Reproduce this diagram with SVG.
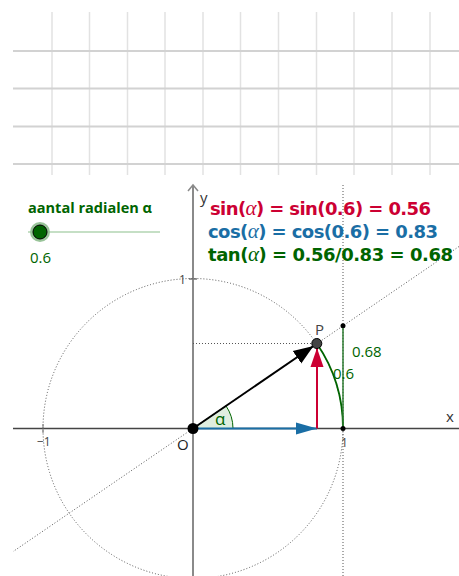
<svg xmlns="http://www.w3.org/2000/svg" width="459" height="576" viewBox="0 0 459 576">
<style>
.gh{stroke:#d2d2d2;stroke-width:2}
.gv{stroke:#e2e2e2;stroke-width:1.5}
.dot{fill:none;stroke:#555;stroke-width:1;stroke-dasharray:1 2}
.tick{font-family:"Open Sans","DejaVu Sans",sans-serif;font-size:12px;fill:#444}
.lbl{font-family:"Open Sans","DejaVu Sans",sans-serif;font-size:15px}
.f{font-family:"DejaVu Sans","Liberation Sans",sans-serif;font-size:18px;font-weight:bold}
.a{font-family:"Liberation Serif","DejaVu Serif",serif;font-style:italic;font-weight:normal;font-size:21px}
</style>
<defs>
<clipPath id="gv"><rect x="13" y="180" width="446" height="396"/></clipPath>
<marker id="mk" markerUnits="userSpaceOnUse" markerWidth="22" markerHeight="18" viewBox="0 -9 22 18" refX="20" refY="0" orient="auto"><path d="M0,-7.5 L20,0 L0,7.5 z" fill="#000"/></marker>
<marker id="mb" markerUnits="userSpaceOnUse" markerWidth="22" markerHeight="14" viewBox="0 -7 22 14" refX="21" refY="0" orient="auto"><path d="M0,-6 L21,0 L0,6 z" fill="#1a6ea5"/></marker>
<marker id="mr" markerUnits="userSpaceOnUse" markerWidth="20" markerHeight="16" viewBox="0 -8 20 16" refX="19" refY="0" orient="auto"><path d="M0,-6.5 L19,0 L0,6.5 z" fill="#cc0033"/></marker>
</defs>
<rect width="459" height="576" fill="#fff"/>
<g id="grid">
<line class="gv" x1="52" y1="12" x2="52" y2="175"/>
<line class="gv" x1="89.5" y1="12" x2="89.5" y2="175"/>
<line class="gv" x1="127.5" y1="12" x2="127.5" y2="175"/>
<line class="gv" x1="165" y1="12" x2="165" y2="175"/>
<line class="gv" x1="203" y1="12" x2="203" y2="175"/>
<line class="gv" x1="240.5" y1="12" x2="240.5" y2="175"/>
<line class="gv" x1="278.5" y1="12" x2="278.5" y2="175"/>
<line class="gv" x1="316.5" y1="12" x2="316.5" y2="175"/>
<line class="gv" x1="354" y1="12" x2="354" y2="175"/>
<line class="gv" x1="392" y1="12" x2="392" y2="175"/>
<line class="gv" x1="430" y1="12" x2="430" y2="175"/>
<line class="gh" x1="13" y1="51" x2="459" y2="51"/>
<line class="gh" x1="13" y1="88.5" x2="459" y2="88.5"/>
<line class="gh" x1="13" y1="126.5" x2="459" y2="126.5"/>
<line class="gh" x1="13" y1="164" x2="459" y2="164"/>
</g>
<g id="slider">
<text x="28" y="213" font-family="Open Sans,DejaVu Sans,sans-serif" font-size="15" font-weight="bold" fill="#006400" textLength="124" lengthAdjust="spacingAndGlyphs">aantal radialen α</text>
<line x1="28" y1="232" x2="160" y2="232" stroke="#c5dfc5" stroke-width="2"/>
<circle cx="40" cy="232" r="10" fill="#99c499"/>
<circle cx="40" cy="232" r="7" fill="#006400" stroke="#000" stroke-width="1"/>
<text x="30" y="263" font-family="Open Sans,DejaVu Sans,sans-serif" font-size="15" fill="#006400">0.6</text>
</g>
<g id="axes" clip-path="url(#gv)">
<line x1="13" y1="428.5" x2="459" y2="428.5" stroke="#444" stroke-width="1.5"/>
<line x1="193" y1="576" x2="193" y2="185" stroke="#8a8a8a" stroke-width="2"/>
<path d="M188,191 L193,185 L198,191" fill="none" stroke="#8a8a8a" stroke-width="1.5"/>
<line x1="189" y1="279" x2="197" y2="279" stroke="#777" stroke-width="1.5"/>
<line x1="43" y1="424" x2="43" y2="433" stroke="#777" stroke-width="1"/>
<text class="tick" x="179" y="284">1</text>
<text class="tick" x="37" y="446">−1</text>
<text class="tick" x="341" y="447">1</text>
<text x="200" y="203" font-family="Open Sans,DejaVu Sans,sans-serif" font-size="15" fill="#333">y</text>
<text x="446" y="422" font-family="Open Sans,DejaVu Sans,sans-serif" font-size="15" fill="#333">x</text>
</g>
<g id="construction" clip-path="url(#gv)">
<circle class="dot" cx="193" cy="428.5" r="150"/>
<line class="dot" x1="0" y1="560.5" x2="459" y2="246.5"/>
<line class="dot" x1="343" y1="185" x2="343" y2="576"/>
<line class="dot" x1="193" y1="343.5" x2="317" y2="343.5"/>
</g>
<g id="angle">
<path d="M193,428.5 L233,428.5 A40,40 0 0 0 226,405.9 Z" fill="#dfeedf" stroke="#006400" stroke-width="1"/>
<text x="215" y="425" font-family="Open Sans,DejaVu Sans,sans-serif" font-size="17" fill="#006400">α</text>
</g>
<g id="connectors">
<line x1="193" y1="428.5" x2="317" y2="428.5" stroke="#1a6ea5" stroke-width="2" marker-end="url(#mb)"/>
<line x1="317" y1="428.5" x2="317" y2="348" stroke="#cc0033" stroke-width="2" marker-end="url(#mr)"/>
<line x1="193" y1="428.5" x2="313.5" y2="346" stroke="#000" stroke-width="2" marker-end="url(#mk)"/>
<path d="M343,428.5 A150,150 0 0 0 316.8,343.5" fill="none" stroke="#006400" stroke-width="1.8"/>
<line x1="343" y1="428.5" x2="343" y2="325.8" stroke="#2e7d32" stroke-width="1.5"/>
</g>
<g id="points">
<circle id="O" cx="193" cy="428.5" r="5.5" fill="#000"/>
<circle id="P" cx="316.8" cy="343.5" r="5" fill="#444" stroke="#000" stroke-width="1"/>
<circle cx="343" cy="325.8" r="2.5" fill="#000"/>
<circle cx="343" cy="428.5" r="2.5" fill="#000"/>
<text x="177" y="450" class="lbl" font-size="16" fill="#222">O</text>
<text x="315" y="335" class="lbl" fill="#444">P</text>
<text x="352" y="357" class="lbl" fill="#006400">0.68</text>
<text x="333" y="379" class="lbl" fill="#006400">0.6</text>
</g>
<g id="formulas">
<text class="f" x="210" y="215" fill="#cc0033" textLength="221" lengthAdjust="spacing">sin(<tspan class="a">α</tspan>) = sin(0.6) = 0.56</text>
<text class="f" x="208" y="238" fill="#1a6ea5" textLength="230" lengthAdjust="spacing">cos(<tspan class="a">α</tspan>) = cos(0.6) = 0.83</text>
<text class="f" x="208" y="261" fill="#006400" textLength="245" lengthAdjust="spacing">tan(<tspan class="a">α</tspan>) = 0.56/0.83 = 0.68</text>
</g>
</svg>
